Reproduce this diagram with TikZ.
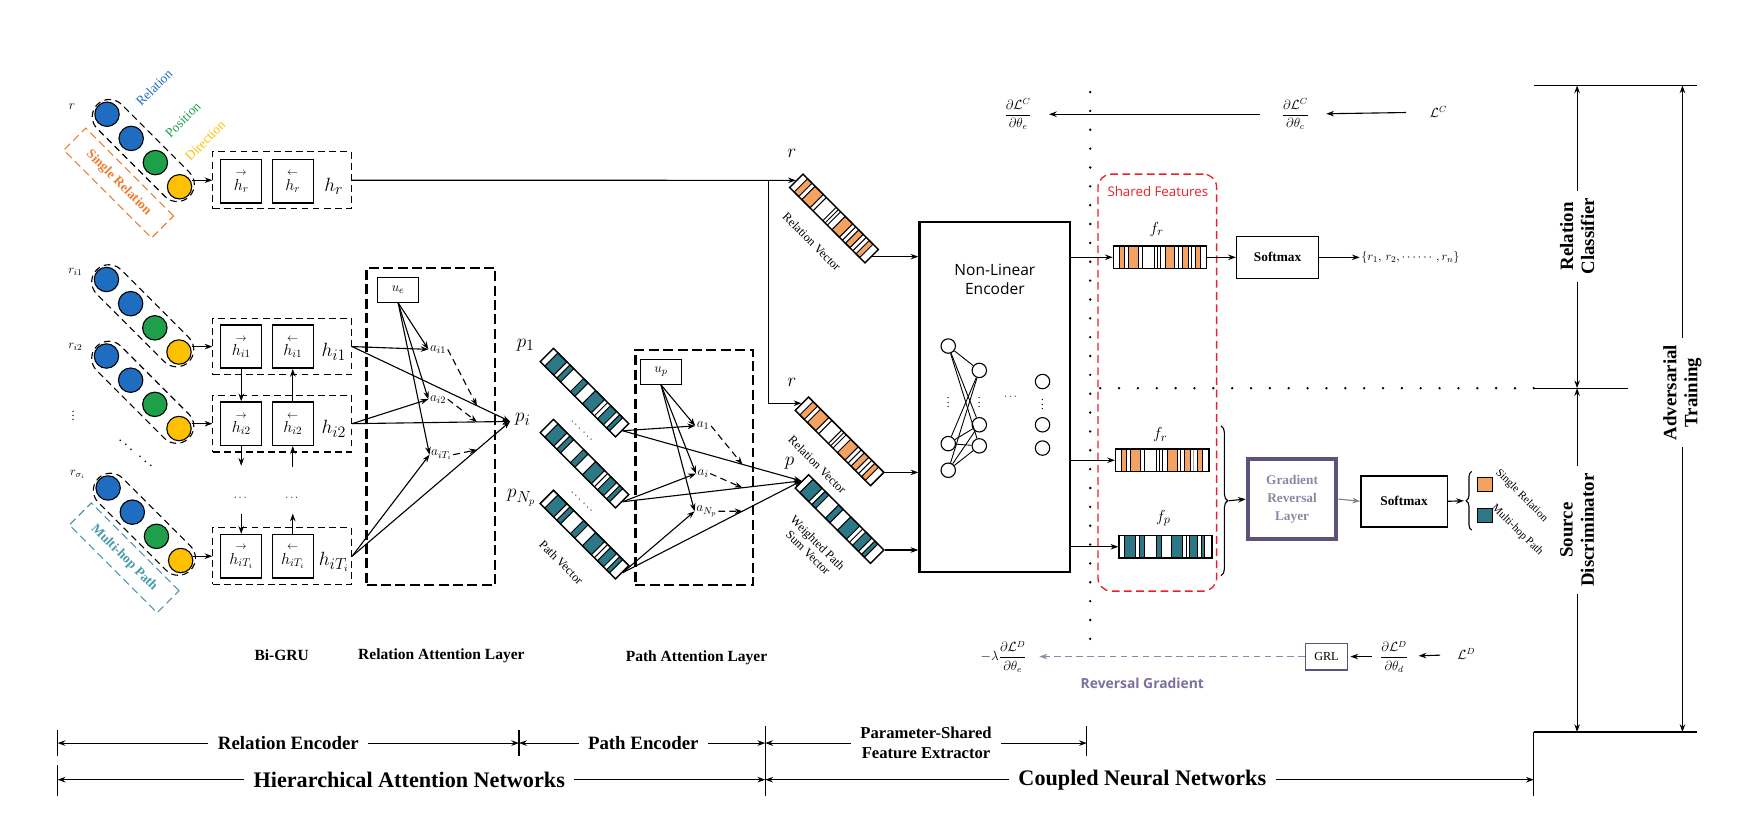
\documentclass[tikz,border=0pt]{standalone}
\usepackage{amsmath}
\usepackage{fontspec}
\setmainfont{Liberation Serif}
\newfontfamily\sansfont{Open Sans}
\usepackage{tikz}
\usetikzlibrary{arrows.meta,calc,shapes.misc,decorations.pathreplacing}

\definecolor{relblue}{HTML}{1F6DC0}
\definecolor{posgreen}{HTML}{1DA049}
\definecolor{diryellow}{HTML}{FFC000}
\definecolor{srorange}{HTML}{ED7D31}
\definecolor{mhteal}{HTML}{4A98AE}
\definecolor{vecorange}{HTML}{F4A261}
\definecolor{vecteal}{HTML}{2C7887}
\definecolor{sfred}{HTML}{E8202A}
\definecolor{grlframe}{HTML}{5E5278}
\definecolor{grltext}{HTML}{8C87A4}
\definecolor{revgrad}{HTML}{7D6F9E}

% stripe positions of the feature vectors (fraction of the length)
\def\ofill{0.06/0.12,0.16/0.27,0.31/0.31,0.44/0.44,0.47/0.47,0.50/0.50,0.56/0.66,0.70/0.70,0.74/0.80,0.84/0.84,0.88/0.93}
\def\tfill{0.06/0.18,0.22/0.27,0.40/0.46,0.56/0.68,0.72/0.72,0.76/0.84,0.88/0.92}

\newcommand{\featvec}[7]{%
  \begin{scope}[shift={(#2)},rotate=#3]
    \foreach \sa/\sb in #7
      \filldraw[fill=#6,draw=black,line width=0.9pt] ({(\sa-0.5)*#4},{-#5/2}) rectangle ({(\sb-0.5)*#4},{#5/2});
  \end{scope}
  \node[vecbox,rotate=#3,minimum width=#4pt,minimum height=#5pt] (#1) at (#2) {};
}

\tikzset{
  >={Stealth[length=7pt,width=5pt]},
  ball/.style={circle,draw,minimum size=22pt,inner sep=0pt,line width=1pt},
  capsule/.style={rounded rectangle,draw,dash pattern=on 6pt off 4pt,minimum width=124pt,minimum height=31pt,rotate=-45},
  tagbox/.style={draw,dash pattern=on 7pt off 4pt,rotate=-45,minimum width=112pt,minimum height=28pt,font=\bfseries\fontsize{12}{13}\selectfont},
  grubox/.style={draw,dash pattern=on 6pt off 4pt,minimum width=125pt,minimum height=51pt,inner sep=0pt},
  grucell/.style={draw,line width=1.3pt,minimum width=37pt,minimum height=39pt,inner sep=0pt,font=\fontsize{14}{15}\selectfont},
  attbox/.style={draw,line width=2pt,dash pattern=on 9pt off 4pt,inner sep=0pt},
  ubox/.style={draw,minimum width=37pt,minimum height=22pt,inner sep=0pt,font=\fontsize{13}{14}\selectfont},
  alab/.style={inner sep=1pt,font=\fontsize{13}{14}\selectfont},
  biglab/.style={inner sep=1pt,font=\fontsize{19}{21}\selectfont},
  smalllab/.style={inner sep=1pt,font=\fontsize{11}{12}\selectfont},
  vecbox/.style={draw,line width=1.3pt,inner sep=0pt},
  vectext/.style={rotate=-45,inner sep=1pt,font=\fontsize{11}{12}\selectfont,align=center},
  neuron/.style={circle,draw,minimum size=13pt,inner sep=0pt,fill=white},
  smbox/.style={draw,line width=1.3pt,font=\bfseries\fontsize{12}{13}\selectfont},
  fraclab/.style={inner sep=1pt,font=\fontsize{12}{14}\selectfont},
  layerlab/.style={font=\bfseries\fontsize{14}{16}\selectfont},
  sidelab/.style={rotate=90,align=center,fill=white,inner sep=6pt,font=\bfseries\fontsize{17}{19}\selectfont},
  dimlab/.style={fill=white,inner sep=8pt,font=\bfseries\fontsize{17}{19}\selectfont},
  dotline/.style={line width=2.4pt,line cap=round,dash pattern=on 0pt off 17pt},
  dashedarrow/.style={->,dash pattern=on 6pt off 4pt},
}

\begin{document}
\begin{tikzpicture}[x=1pt,y=-1pt,line width=1pt]
\useasboundingbox (0,0) rectangle (1568,750);

% input embeddings
\foreach \row/\x/\y in {sr/96.5/103, ma/96/252, mb/96/321, mc/97.5/440}{
  \foreach \j/\c in {1/relblue,2/relblue,3/posgreen,4/diryellow}
    \node[ball,fill=\c] (\row\j) at ({\x+21.8*(\j-1)},{\y+21.8*(\j-1)}) {};
  \node[capsule] (\row cap) at ({\x+32.7},{\y+32.7}) {};
}
\node[smalllab,font=\fontsize{12}{13}\selectfont] (rlab) at (65,96) {$r$};
\node[smalllab,rotate=45,text=relblue,font=\fontsize{12}{13}\selectfont] (relw) at (139,79) {Relation};
\node[smalllab,rotate=45,text=posgreen,font=\fontsize{12}{13}\selectfont] (posw) at (165,108) {Position};
\node[smalllab,rotate=45,text=diryellow,font=\fontsize{12}{13}\selectfont] (dirw) at (185,127) {Direction};
\node[tagbox,draw=srorange,text=srorange] (srtag) at (107,165) {Single Relation};
\node[smalllab] (ralab) at (68,245) {$r_{i1}$};
\node[smalllab] (rblab) at (68,313) {$r_{i2}$};
\node[smalllab] (rvd) at (66,372) {$\vdots$};
\node[rotate=-40,font=\fontsize{14}{15}\selectfont] (rdd) at (123,410) {$\cdots\;\cdots$};
\node[smalllab] (rclab) at (70,428) {$r_{\sigma_i}$};
\node[tagbox,draw=mhteal,text=mhteal] (mhtag) at (112,503) {Multi-hop Path};

% Bi-GRU
\node[grubox] (gr) at (254.5,162.5) {};
\node[grucell] (grf) at (217.5,163.5) {$\overset{\rightarrow}{h_r}$};
\node[grucell] (grb) at (264,163.5) {$\overset{\leftarrow}{h_r}$};
\node[biglab] (hr) at (301,168) {$h_r$};
\foreach \k/\y/\s in {1/312.5/i1, 2/382/i2, 3/501.5/{iT_i}}{
  \node[grubox] (g\k) at (254.5,\y) {};
  \node[grucell] (gf\k) at (217.5,\y) {$\overset{\rightarrow}{h_{\s}}$};
  \node[grucell] (gb\k) at (264,\y) {$\overset{\leftarrow}{h_{\s}}$};
  \node[biglab] (h\k) at (301,{\y+5}) {$h_{\s}$};
}
\draw[->] (sr4.east |- gr.west) -- (gr.west);
\draw[->] (ma4.east |- g1.west) -- (g1.west);
\draw[->] (mb4.east |- g2.west) -- (g2.west);
\draw[->] (mc4.east |- g3.west) -- (g3.west);
\draw[->] (gf1) -- (gf2);
\draw[->] (gb2) -- (gb1);
\coordinate (fgap) at (217.5,420);
\coordinate (bgap) at (264,421);
\draw[->] (gf2) -- (fgap);
\draw[->] (bgap) -- (gb2);
\node (fdots) at (217.5,449) {$\cdots$};
\node (bdots) at (264,449) {$\cdots$};
\draw[->,shorten <=8pt] (fdots) -- (gf3);
\draw[->,shorten >=8pt] (gb3) -- (bdots);

% relation attention layer
\node[attbox,minimum width=116pt,minimum height=286pt] (ratt) at (388.5,384.5) {};
\node[ubox] (ue) at (359,261.5) {$u_e$};
\node[alab] (ai1) at (395,315) {$a_{i1}$};
\node[alab] (ai2) at (395,360) {$a_{i2}$};
\node[alab] (aiT) at (398,410) {$a_{iT_i}$};
\coordinate (pi) at (460,380);
\node[biglab,anchor=west] (pil) at (463,378) {$p_i$};
\foreach \a in {ai1,ai2,aiT} \draw[->] (ue.south) -- (\a.west);
\draw[->] (g1.east) -- (ai1.west);
\draw[->] (g2.east) -- (ai2.west);
\draw[->] (g3.east) -- (aiT.west);
\foreach \k in {1,2,3} \draw[->] (g\k.east) -- (pi);
\draw[dashedarrow] (ai1.east) -- ($(g1.east)!0.79!(pi)$);
\draw[dashedarrow] (ai2.east) -- ($(g2.east)!0.79!(pi)$);
\draw[dashedarrow] (aiT.east) -- ($(g3.east)!0.79!(pi)$);

% path vectors and path attention layer
\featvec{pv1}{527,354}{-45}{96}{17}{vecteal}{\tfill}
\featvec{pv2}{527,418}{-45}{96}{17}{vecteal}{\tfill}
\featvec{pv3}{527,482}{-45}{96}{17}{vecteal}{\tfill}
\node[biglab] (p1l) at (474,311) {$p_1$};
\node[biglab] (pNl) at (470,449) {$p_{N_p}$};
\node[rotate=-45,inner sep=0pt] (pd1) at (525,389) {$\cdots\,\cdots$};
\node[rotate=-45,inner sep=0pt] (pd2) at (525,453) {$\cdots\,\cdots$};
\node[vectext] (pvt) at (506,507) {Path Vector};
\node[attbox,minimum width=106pt,minimum height=212pt] (patt) at (626,421.5) {};
\node[ubox] (up) at (596,335.5) {$u_p$};
\node[alab] (a1) at (634,384) {$a_1$};
\node[alab] (ai) at (634,427) {$a_i$};
\node[alab] (aN) at (637,461) {$a_{N_p}$};
\foreach \a in {a1,ai,aN} \draw[->] (up.south) -- (\a.west);

% relation and weighted path vectors
\featvec{rv1}{752,197}{-45}{96}{17}{vecorange}{\ofill}
\featvec{rv2}{757,398}{-45}{96}{17}{vecorange}{\ofill}
\featvec{wv}{757,468}{-45}{96}{17}{vecteal}{\tfill}
\node[biglab] (rl1) at (714,138) {$r$};
\node[biglab] (rl2) at (714,345) {$r$};
\node[biglab] (pl) at (712,418) {$p$};
\node[vectext] (rvt1) at (732,218) {Relation Vector};
\node[vectext] (rvt2) at (737,419) {Relation Vector};
\node[vectext] (wvt) at (733,494) {Weighted Path\\Sum Vector};
\draw[->] (pv1.east) -- (a1.west);
\draw[->] (pv2.east) -- (ai.west);
\draw[->] (pv3.east) -- (aN.west);
\foreach \v in {pv1,pv2,pv3} \draw[->] (\v.east) -- (wv.west);
\draw[dashedarrow] (a1.east) -- ($(pv1.east)!0.67!(wv.west)$);
\draw[dashedarrow] (ai.east) -- ($(pv2.east)!0.67!(wv.west)$);
\draw[dashedarrow] (aN.east) -- ($(pv3.east)!0.67!(wv.west)$);
\coordinate (br) at (693,162.5);
\draw[->] (gr.east) -- (rv1.west);
\draw[->] (br) |- (rv2.west);

% non-linear encoder
\node[draw,line width=2pt,minimum width=136pt,minimum height=316pt] (enc) at (897,358) {};
\node[font=\sansfont\fontsize{14}{17}\selectfont,align=center] (enct) at (897,252) {Non-Linear\\Encoder};
\foreach \k/\y in {1/312,2/400,3/424} \node[neuron] (na\k) at (855,\y) {};
\foreach \k/\y in {1/334,2/383,3/402} \node[neuron] (nb\k) at (883,\y) {};
\foreach \k/\y in {1/344,2/383,3/404} \node[neuron] (nc\k) at (940,\y) {};
\foreach \a in {1,2,3} \foreach \b in {1,2,3} \draw[line width=0.8pt] (na\a) -- (nb\b);
\node (nad) at (855,360) {$\vdots$};
\node (nbd) at (883,360) {$\vdots$};
\node (ncd) at (940,362) {$\vdots$};
\node (nhd) at (912,358) {$\cdots$};
\draw[->] (rv1.east) -- (rv1.east -| enc.west);
\draw[->] (rv2.north east) -- (rv2.north east -| enc.west);
\draw[->] (wv.north east) -- (wv.north east -| enc.west);

% dotted separators
\coordinate (dvt) at (983,83);
\coordinate (dvb) at (983,590);
\draw[dotline] (dvt) -- (dvb);
\coordinate (dhl) at (992,350);
\coordinate (dhr) at (1383,350);
\coordinate (cmr) at (1468,350);
\draw[dotline] (dhl) -- (dhr);
\draw (dhr) -- (cmr);

% shared features
\node[draw=sfred,dash pattern=on 7pt off 4pt,rounded corners=12pt,line width=1.2pt,minimum width=107pt,minimum height=376pt] (sf) at (1043.5,345) {};
\node[text=sfred,font=\sansfont\fontsize{12}{13}\selectfont] (sft) at (1044,173) {Shared Features};
\featvec{fr1}{1046,232}{0}{84}{20}{vecorange}{\ofill}
\featvec{fr2}{1048,415}{0}{84}{20}{vecorange}{\ofill}
\featvec{fp}{1051,493}{0}{84}{20}{vecteal}{\tfill}
\node[inner sep=1pt,font=\fontsize{15}{16}\selectfont] (frl1) at (1043,207) {$f_r$};
\node[inner sep=1pt,font=\fontsize{15}{16}\selectfont] (frl2) at (1046,392) {$f_r$};
\node[inner sep=1pt,font=\fontsize{15}{16}\selectfont] (fpl) at (1049,467) {$f_p$};
\draw[->] (enc.east |- fr1.west) -- (fr1.west);
\draw[->] (enc.east |- fr2.west) -- (fr2.west);
\draw[->] (enc.east |- fp.west) -- (fp.west);

% relation classifier branch
\node[smbox,minimum width=74pt,minimum height=38pt] (sm1) at (1152,232) {Softmax};
\node[smalllab,anchor=west] (rset) at (1226,232) {$\{r_1,\,r_2,\cdots\cdots,r_n\}$};
\draw[->] (fr1.east) -- (sm1.west);
\draw[->] (sm1.east) -- (rset.west);

% source discriminator branch
\coordinate (bra) at (1101,384);
\coordinate (brb) at (1101,519);
\coordinate (brtip) at (1108,451.5);
\draw[decorate,decoration={brace,amplitude=6pt}] (bra) -- (brb);
\node[draw=grlframe,line width=3.5pt,minimum width=80pt,minimum height=72pt,text=grltext,align=center,font=\bfseries\fontsize{12}{16}\selectfont] (grl) at (1165,450) {Gradient\\Reversal\\Layer};
\node[smbox,minimum width=78pt,minimum height=46pt] (sm2) at (1266,452) {Softmax};
\coordinate (lga) at (1327,478);
\coordinate (lgb) at (1327,425);
\coordinate (lgtip) at (1320,451.5);
\draw[decorate,decoration={brace,amplitude=5pt}] (lga) -- (lgb);
\draw[->] (brtip) -- (grl.west);
\draw[->,gray] (grl.east) -- (sm2.west);
\draw[->] (sm2.east) -- (lgtip);
\node[draw,fill=vecorange,minimum size=13pt,inner sep=0pt] (sqr) at (1339,437) {};
\node[draw,fill=vecteal,minimum size=13pt,inner sep=0pt] (sqp) at (1339,465) {};
\node[rotate=-45,inner sep=1pt,font=\fontsize{10}{11}\selectfont] (sqrt) at (1372,447) {Single Relation};
\node[rotate=-45,inner sep=1pt,font=\fontsize{10}{11}\selectfont] (sqpt) at (1368,478) {Multi-hop Path};

% gradients
\node[fraclab] (dCe) at (918,103) {$\dfrac{\partial\mathcal{L}^C}{\partial\theta_e}$};
\node[fraclab] (dCc) at (1168,103) {$\dfrac{\partial\mathcal{L}^C}{\partial\theta_c}$};
\node[fraclab] (LC) at (1297,101) {$\mathcal{L}^C$};
\draw[->,shorten <=18pt,shorten >=14pt] (dCc) -- (dCe);
\draw[->,shorten <=20pt,shorten >=14pt] (LC) -- (dCc);
\node[fraclab] (dDe) at (905,592) {$-\lambda\dfrac{\partial\mathcal{L}^D}{\partial\theta_e}$};
\node[draw=grlframe,line width=1.2pt,minimum width=38pt,minimum height=24pt,inner sep=0pt,font=\fontsize{11}{12}\selectfont] (grs) at (1196,592) {GRL};
\node[fraclab] (dDd) at (1257,592) {$\dfrac{\partial\mathcal{L}^D}{\partial\theta_d}$};
\node[fraclab] (LD) at (1322,590) {$\mathcal{L}^D$};
\draw[dashedarrow,revgrad!85,shorten >=10pt] (grs) -- (dDe);
\draw[->,shorten <=6pt,shorten >=2pt] (dDd) -- (grs);
\draw[->,shorten <=14pt,shorten >=8pt] (LD) -- (dDd);
\node[text=revgrad,font=\sansfont\bfseries\fontsize{12.5}{13}\selectfont] (rgt) at (1030,616) {Reversal Gradient};

% right side: classifier / discriminator / adversarial training
\coordinate (rtl) at (1383,77);
\coordinate (rtr) at (1530,77);
\coordinate (rbl) at (1383,660);
\coordinate (rbr) at (1530,660);
\coordinate (rbd) at (1383,718);
\draw (rtl) -- (rtr);
\draw (rbl) -- (rbr);
\draw (rbl) -- (rbd);
\coordinate (ct) at (1422,77);
\coordinate (cm) at (1422,350);
\coordinate (cb) at (1422,660);
\coordinate (at) at (1517,77);
\coordinate (ab) at (1517,660);
\node[sidelab] (rc) at (1422,213) {Relation\\Classifier};
\node[sidelab] (sd) at (1422,478) {Source\\Discriminator};
\node[sidelab] (adv) at (1517,354) {Adversarial\\Training};
\draw[->] (rc) -- (ct);
\draw[->] (rc) -- (cm);
\draw[->] (sd) -- (cm);
\draw[->] (sd) -- (cb);
\draw[->] (adv) -- (at);
\draw[->] (adv) -- (ab);

% layer names
\node[layerlab] (bgl) at (254,591) {Bi-GRU};
\node[layerlab] (ral) at (398,591) {Relation Attention Layer};
\node[layerlab] (pal) at (628,593) {Path Attention Layer};

% dimension lines
\draw (52,658) -- (52,682);
\draw (52,690) -- (52,718);
\draw (468,658) -- (468,682);
\draw (690,655) -- (690,718);
\draw (980,655) -- (980,682);
\coordinate (d0) at (52,670);
\coordinate (d1) at (468,670);
\coordinate (d2) at (690,670);
\coordinate (d3) at (980,670);
\coordinate (e0) at (52,703);
\coordinate (e1) at (690,703);
\coordinate (e2) at (1383,703);
\node[dimlab] (re) at (260,670) {Relation Encoder};
\node[dimlab] (pe) at (580,670) {Path Encoder};
\node[dimlab,align=center,font=\bfseries\fontsize{15}{18}\selectfont] (pfe) at (835,670) {Parameter-Shared\\Feature Extractor};
\node[dimlab,font=\bfseries\fontsize{20}{22}\selectfont] (han) at (369,703) {Hierarchical Attention Networks};
\node[dimlab,font=\bfseries\fontsize{20}{22}\selectfont] (cnn) at (1030,703) {Coupled Neural Networks};
\draw[->] (re) -- (d0);
\draw[->] (re) -- (d1);
\draw[->] (pe) -- (d1);
\draw[->] (pe) -- (d2);
\draw[->] (pfe) -- (d2);
\draw[->] (pfe) -- (d3);
\draw[->] (han) -- (e0);
\draw[->] (han) -- (e1);
\draw[->] (cnn) -- (e1);
\draw[->] (cnn) -- (e2);
\end{tikzpicture}
\end{document}
